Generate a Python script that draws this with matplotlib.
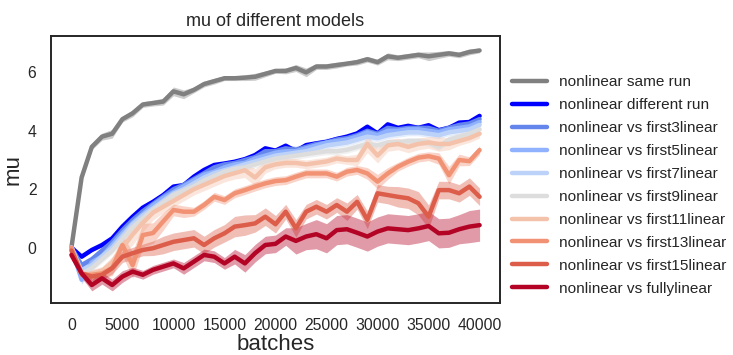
import matplotlib
matplotlib.use("Agg")
import matplotlib.pyplot as plt
import numpy as np
import seaborn as sns

# batches 0..40000, one point every 1000
batches = np.arange(0, 40001, 1000)

labels = [
    "nonlinear same run",
    "nonlinear different run",
    "nonlinear vs first3linear",
    "nonlinear vs first5linear",
    "nonlinear vs first7linear",
    "nonlinear vs first9linear",
    "nonlinear vs first11linear",
    "nonlinear vs first13linear",
    "nonlinear vs first15linear",
    "nonlinear vs fullylinear",
]
colors = ["#808080", "#0000ff", "#6485ec", "#8fb1fe", "#bcd2f8",
          "#dddddd", "#f4c2aa", "#f29274", "#dc5d4a", "#b40426"]

same_run = [0, 2.4, 3.45, 3.8, 3.9, 4.4, 4.6, 4.9, 4.95, 5.0, 5.35, 5.25, 5.4, 5.6,
            5.7, 5.8, 5.8, 5.82, 5.85, 5.95, 6.05, 6.05, 6.15, 6.0, 6.2, 6.2, 6.25,
            6.3, 6.35, 6.45, 6.35, 6.55, 6.5, 6.55, 6.6, 6.55, 6.6, 6.65, 6.6, 6.7, 6.75]
diff_run = [0, -0.31, -0.08, 0.09, 0.32, 0.72, 1.06, 1.37, 1.57, 1.8, 2.09, 2.14, 2.43,
            2.66, 2.83, 2.88, 2.94, 3.03, 3.17, 3.4, 3.32, 3.49, 3.3, 3.51, 3.57, 3.62,
            3.72, 3.8, 3.91, 4.14, 3.91, 4.22, 4.1, 4.17, 4.1, 4.19, 4.02, 4.1, 4.28, 4.3, 4.51]
first3 = [0, -0.6, -0.4, -0.1, 0.2, 0.6, 0.95, 1.25, 1.5, 1.75, 2.0, 2.15, 2.35, 2.55,
          2.75, 2.85, 2.9, 3.0, 3.1, 3.3, 3.3, 3.4, 3.35, 3.45, 3.55, 3.6, 3.7, 3.75,
          3.85, 4.0, 3.9, 4.1, 4.05, 4.1, 4.1, 4.1, 4.0, 4.1, 4.2, 4.25, 4.4]
first5 = [0, -1.1, -0.5, -0.3, 0.1, 0.5, 0.85, 1.15, 1.45, 1.7, 1.9, 2.1, 2.3, 2.5,
          2.6, 2.75, 2.85, 2.9, 3.05, 3.15, 3.25, 3.3, 3.3, 3.4, 3.5, 3.6, 3.65, 3.7,
          3.8, 3.95, 3.85, 4.0, 4.0, 4.05, 4.05, 4.0, 3.95, 4.05, 4.1, 4.15, 4.3]
first7 = [0, -0.8, -0.6, -0.3, 0.0, 0.4, 0.8, 1.1, 1.35, 1.6, 1.85, 2.0, 2.2, 2.4,
          2.55, 2.65, 2.75, 2.85, 2.95, 3.05, 3.15, 3.2, 3.25, 3.3, 3.4, 3.5, 3.55, 3.6,
          3.7, 3.8, 3.75, 3.85, 3.9, 3.95, 3.95, 3.9, 3.85, 3.95, 4.0, 4.05, 4.2]
first9 = [0, -0.9, -0.7, -0.4, -0.1, 0.3, 0.7, 1.0, 1.3, 1.55, 1.8, 1.95, 2.1, 2.3,
          2.45, 2.6, 2.7, 2.75, 2.85, 2.95, 3.05, 3.1, 3.15, 3.2, 3.25, 3.3, 3.3, 3.35,
          3.45, 3.55, 3.5, 3.6, 3.6, 3.65, 3.65, 3.6, 3.45, 3.7, 3.8, 3.9, 4.05]
first11 = [0, -0.9, -0.9, -0.8, -0.5, 0.0, 0.45, 0.85, 1.2, 1.4, 1.6, 1.8, 2.0, 2.15,
           2.3, 2.45, 2.55, 2.65, 2.4, 2.75, 2.85, 2.9, 2.9, 2.85, 2.9, 2.95, 3.05, 3.0,
           3.0, 3.55, 3.15, 3.5, 3.55, 3.45, 3.55, 3.6, 3.55, 3.55, 3.65, 3.75, 3.9]
first13 = [0, -0.93, -0.93, -0.88, -0.7, 0.09, -0.6, 0.43, 0.5, 0.9, 1.29, 1.23, 1.23,
           1.46, 1.74, 1.63, 1.86, 1.97, 2.09, 2.2, 2.28, 2.31, 2.43, 2.54, 2.54, 2.54,
           2.43, 2.6, 2.66, 2.54, 2.26, 2.54, 2.77, 2.94, 3.08, 3.13, 3.05, 2.48, 3.0, 2.96, 3.34]
first15 = [-0.1, -0.88, -0.99, -0.93, -0.7, -0.31, -0.19, -0.08, -0.02, 0.09, 0.2, 0.26,
           0.32, 0.09, 0.32, 0.49, 0.72, 0.77, 0.83, 1.06, 0.8, 1.23, 0.66, 1.23, 1.4, 1.23,
           1.46, 1.23, 1.57, 0.95, 1.86, 1.8, 1.74, 1.69, 1.52, 1.06, 1.97, 1.97, 1.86, 2.09, 1.74]
fully = [-0.25, -0.88, -1.28, -1.05, -1.28, -0.99, -0.82, -0.93, -0.76, -0.65, -0.54,
         -0.71, -0.48, -0.25, -0.31, -0.54, -0.31, -0.54, -0.19, 0.09, 0.13, 0.38, 0.23,
         0.38, 0.46, 0.32, 0.6, 0.63, 0.51, 0.38, 0.55, 0.66, 0.63, 0.6, 0.66, 0.74, 0.49,
         0.51, 0.63, 0.72, 0.77]

# half-widths of the shaded bands
spread_same = [0, 0.05, 0.1, 0.12, 0.15, 0.1, 0.12, 0.1, 0.1, 0.12, 0.15, 0.15, 0.1, 0.1,
               0.1, 0.08, 0.08, 0.1, 0.12, 0.1, 0.08, 0.1, 0.12, 0.15, 0.1, 0.1, 0.1, 0.08,
               0.1, 0.1, 0.1, 0.12, 0.1, 0.1, 0.1, 0.15, 0.12, 0.1, 0.1, 0.1, 0.08]
spread_diff = [0.0] + [0.06] * 40
spread_first3 = [0.0] + [0.12] * 40
spread_first5 = [0.0, 0.15, 0.2] + [0.15] * 38
spread_first7 = [0.0] + [0.12] * 40
spread_first9 = [0.0] + [0.12] * 40
spread_first11 = [0.0, 0.15, 0.15, 0.15, 0.2, 0.3, 0.35, 0.3, 0.25, 0.2, 0.2, 0.2, 0.2,
                  0.2, 0.2, 0.2, 0.2, 0.25, 0.3, 0.2, 0.15, 0.15, 0.15, 0.15, 0.15, 0.15,
                  0.15, 0.15, 0.2, 0.3, 0.25, 0.2, 0.2, 0.2, 0.2, 0.2, 0.25, 0.2, 0.15, 0.15, 0.15]
spread_first13 = [0.0, 0.15, 0.15, 0.2, 0.25, 0.35, 0.45, 0.4, 0.35, 0.3, 0.2, 0.2, 0.15,
                  0.15, 0.15, 0.15, 0.15, 0.15, 0.15, 0.15, 0.15, 0.15, 0.15, 0.15, 0.15,
                  0.15, 0.15, 0.15, 0.15, 0.2, 0.25, 0.2, 0.15, 0.15, 0.15, 0.15, 0.2, 0.3,
                  0.2, 0.15, 0.15]
spread_first15 = [0.1, 0.15, 0.15, 0.15, 0.2, 0.2, 0.2, 0.2, 0.25, 0.3, 0.3, 0.3, 0.3,
                  0.3, 0.3, 0.3, 0.35, 0.35, 0.3, 0.3, 0.3, 0.25, 0.3, 0.25, 0.25, 0.25,
                  0.25, 0.3, 0.25, 0.3, 0.3, 0.3, 0.35, 0.35, 0.4, 0.4, 0.3, 0.3, 0.3, 0.3, 0.3]
spread_fully = [0.15, 0.15, 0.2, 0.2, 0.2, 0.2, 0.15, 0.15, 0.15, 0.15, 0.15, 0.2, 0.2,
                0.2, 0.2, 0.2, 0.25, 0.3, 0.3, 0.3, 0.3, 0.3, 0.45, 0.45, 0.5, 0.5, 0.5,
                0.5, 0.5, 0.5, 0.5, 0.5, 0.5, 0.5, 0.5, 0.5, 0.5, 0.5, 0.5, 0.55, 0.55]

series = [same_run, diff_run, first3, first5, first7, first9, first11, first13, first15, fully]
spreads = [spread_same, spread_diff, spread_first3, spread_first5, spread_first7,
           spread_first9, spread_first11, spread_first13, spread_first15, spread_fully]

sns.set_style("white")
plt.rcParams["font.family"] = ["Liberation Sans", "DejaVu Sans"]
plt.rcParams["axes.edgecolor"] = "#262626"
plt.rcParams["axes.linewidth"] = 1.4

fig = plt.figure(figsize=(7.33, 3.55), dpi=100)
ax = fig.add_axes([51 / 733, 1 - 303 / 355, 449 / 733, 267 / 355])

for label, color, values, spread in zip(labels, colors, series, spreads):
    values = np.asarray(values, dtype=float)
    spread = np.asarray(spread, dtype=float)
    ax.fill_between(batches, values - spread, values + spread,
                    color=color, alpha=0.4, linewidth=0)
    ax.plot(batches, values, color=color, linewidth=3.2, label=label)

ax.set_title("mu of different models", fontsize=13, pad=7)
ax.set_xlabel("batches", fontsize=16, labelpad=1)
ax.set_ylabel("mu", fontsize=16, labelpad=3)
ax.set_xticks(range(0, 40001, 5000))
ax.set_yticks([0, 2, 4, 6])
ax.tick_params(labelsize=11.3, pad=7)
ax.legend(loc="center left", bbox_to_anchor=(1.0, 0.44), frameon=False,
          fontsize=11.1, handlelength=2.3, labelspacing=0.58, borderaxespad=0.35)

fig.savefig("out.png", dpi=100)
